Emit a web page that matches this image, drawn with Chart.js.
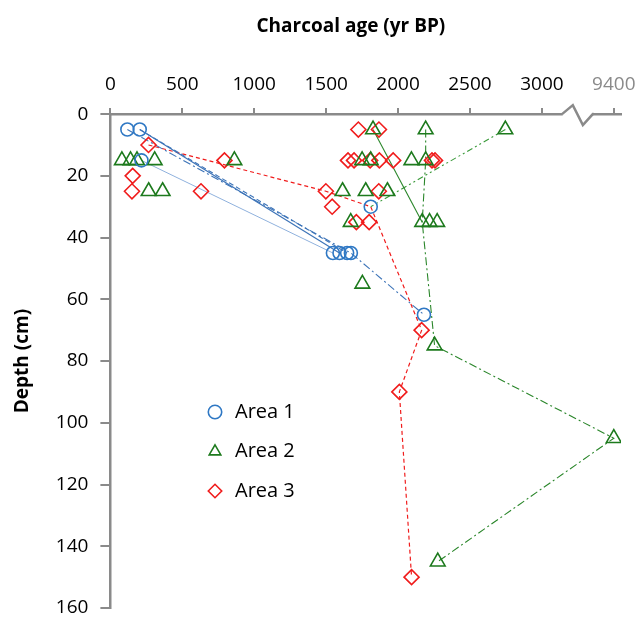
<!DOCTYPE html>
<html>
<head>
<meta charset="utf-8">
<script src="https://cdn.jsdelivr.net/npm/chart.js@4.4.1/dist/chart.umd.min.js"></script>
<style>
  html, body { margin: 0; padding: 0; background: #fff; }
  #wrap { width: 640px; height: 619px; }
</style>
</head>
<body>
<div id="wrap"><canvas id="charcoalChart"></canvas></div>
<script>
// charcoal ages (yr BP) against sample depth (cm), three areas
const area1Age   = [118, 204, 216, 1810, 1547, 1593, 1646, 1672, 2180];
const area1Depth = [5, 5, 15, 30, 45, 45, 45, 45, 65];

const area2Age   = [1826, 2192, 2746,
                    80, 140, 185, 308, 862, 1750, 1810, 2093, 2192,
                    266, 363, 1614, 1775, 1926,
                    1671, 2168, 2219, 2272,
                    1752, 2254, 9400, 2276];
const area2Depth = [5, 5, 5,
                    15, 15, 15, 15, 15, 15, 15, 15, 15,
                    25, 25, 25, 25, 25,
                    35, 35, 35, 35,
                    55, 75, 105, 145];

const area3Age   = [1724, 1867, 265,
                    793, 1652, 1694, 1806, 1870, 1966, 2236, 2257,
                    155, 150, 630, 1498, 1866, 1542, 1710, 1799,
                    2164, 2009, 2094];
const area3Depth = [5, 5, 10,
                    15, 15, 15, 15, 15, 15, 15, 15,
                    20, 25, 25, 25, 25, 30, 35, 35,
                    70, 90, 150];

// profiles joined by lines: [age, depth]
const area1LineA = [[204, 5], [1593, 45]];
const area1LineB = [[204, 5], [1646, 45]];
const area1LineC = [[118, 5], [1672, 45], [2180, 65]];
const area1LineD = [[216, 15], [1547, 45]];
const area2LineA = [[1826, 5], [2168, 35]];
const area2LineB = [[2192, 5], [2192, 15], [2168, 35], [2254, 75], [9400, 105], [2276, 145]];
const area2LineC = [[2746, 5], [1810, 30]];
const area3LineA = [[265, 10], [1498, 25], [1810, 30], [2164, 70], [2009, 90], [2094, 150]];

const ageTicks = [0, 500, 1000, 1500, 2000, 2500, 3000, 3500];
const depthTicks = [0, 20, 40, 60, 80, 100, 120, 140, 160];

const BLUE = '#2f78c4';
const GREEN = '#1d7a1d';
const RED = '#f01c1c';
const AXIS = '#8a8a8a';

// 9400 sits past the axis break, drawn where 3500 would be
const axisPos = age => (age >= 9400 ? 3500 : age);
const points = (ages, depths) => ages.map((a, i) => ({ x: axisPos(a), y: depths[i] }));
const path = pairs => pairs.map(([a, d]) => ({ x: axisPos(a), y: d }));

function markerSet(label, ages, depths, style, radius, color) {
  return {
    label,
    data: points(ages, depths),
    pointStyle: style,
    pointRadius: radius,
    pointBorderWidth: 1.6,
    borderColor: color,
    backgroundColor: 'rgba(0,0,0,0)',
    borderWidth: 1.6,
    showLine: false,
    order: 0
  };
}

function lineSet(pairs, color, dash, width) {
  return {
    label: '',
    data: path(pairs),
    showLine: true,
    pointRadius: 0,
    borderColor: color,
    borderWidth: width || 1.1,
    borderDash: dash,
    order: 1
  };
}

const axisBreak = {
  id: 'axisBreak',
  afterDraw(chart) {
    const { ctx, scales: { x } } = chart;
    const y0 = x.bottom;
    const p = v => x.getPixelForValue(v);
    ctx.save();
    ctx.fillStyle = '#fff';
    ctx.fillRect(p(3145), y0 - 3, p(3354) - p(3145), 6);
    ctx.strokeStyle = AXIS;
    ctx.lineWidth = 2.5;
    ctx.lineJoin = 'miter';
    ctx.beginPath();
    ctx.moveTo(p(3140), y0);
    ctx.lineTo(p(3215), y0 - 9);
    ctx.lineTo(p(3285), y0 + 11);
    ctx.lineTo(p(3354), y0);
    ctx.lineTo(p(3360), y0);
    ctx.stroke();
    ctx.restore();
  }
};

const legendPlace = {
  id: 'legendPlace',
  afterLayout(chart) {
    const lg = chart.legend;
    const w = lg.width;
    lg.left = 185.5;
    lg.right = lg.left + w;
    lg.top = 382.5;
    lg.bottom = chart.height;
  }
};

Chart.defaults.font.family = "'Open Sans', sans-serif";
Chart.defaults.color = '#000';

new Chart(document.getElementById('charcoalChart'), {
  type: 'scatter',
  data: {
    datasets: [
      markerSet('Area 1', area1Age, area1Depth, 'circle', 6.5, BLUE),
      markerSet('Area 2', area2Age, area2Depth, 'triangle', 8.5, GREEN),
      markerSet('Area 3', area3Age, area3Depth, 'rectRot', 7.5, RED),
      lineSet(area1LineA, '#3d74b8', [], 1.2),
      lineSet(area1LineB, '#3d74b8', [5, 3], 1.1),
      lineSet(area1LineC, '#3d74b8', [8, 3, 2, 3], 1.1),
      lineSet(area1LineD, '#8fb1dd', [], 1),
      lineSet(area2LineA, '#2a862a', [], 1.1),
      lineSet(area2LineB, '#2a862a', [8, 3, 2, 3], 1.1),
      lineSet(area2LineC, '#3a9a3a', [6, 3, 2, 3, 2, 3], 1.1),
      lineSet(area3LineA, RED, [4, 3], 1.2)
    ]
  },
  options: {
    responsive: true,
    maintainAspectRatio: false,
    animation: false,
    layout: { padding: { left: 4, right: 19, top: 5, bottom: 11 } },
    plugins: {
      tooltip: { enabled: false },
      legend: {
        position: 'chartArea',
        align: 'start',
        labels: {
          usePointStyle: true,
          boxHeight: 9.5,
          padding: 19.5,
          font: { size: 20 },
          color: '#000',
          filter: item => item.text !== ''
        }
      }
    },
    scales: {
      x: {
        type: 'linear',
        position: 'top',
        min: 0,
        max: 3550,
        afterBuildTicks: scale => { scale.ticks = ageTicks.map(v => ({ value: v })); },
        afterFit: scale => { scale.paddingRight = 0; },
        ticks: {
          padding: 12,
          maxRotation: 0,
          font: { size: 19 },
          color: ctx => (ctx.tick && ctx.tick.value === 3500 ? '#8a8a8a' : '#000'),
          callback: value => (value === 3500 ? '9400' : String(value))
        },
        grid: { drawOnChartArea: false, tickLength: 6, color: AXIS, lineWidth: 2 },
        border: { color: AXIS, width: 2.5 },
        title: {
          display: true,
          text: 'Charcoal age (yr BP)      ',
          font: { size: 19, weight: 'bold' },
          padding: { top: 10, bottom: 23.5 }
        }
      },
      y: {
        type: 'linear',
        reverse: true,
        min: 0,
        max: 160,
        afterBuildTicks: scale => { scale.ticks = depthTicks.map(v => ({ value: v })); },
        afterFit: scale => { scale.paddingTop = 0; scale.paddingBottom = 0; },
        ticks: { padding: 12, font: { size: 19 }, color: '#000' },
        grid: { drawOnChartArea: false, tickLength: 10, color: AXIS, lineWidth: 2 },
        border: { color: AXIS, width: 2.5 },
        title: {
          display: true,
          text: 'Depth (cm)',
          font: { size: 19, weight: 'bold' },
          padding: { top: 7, bottom: 10 }
        }
      }
    }
  },
  plugins: [axisBreak, legendPlace]
});
</script>
</body>
</html>
